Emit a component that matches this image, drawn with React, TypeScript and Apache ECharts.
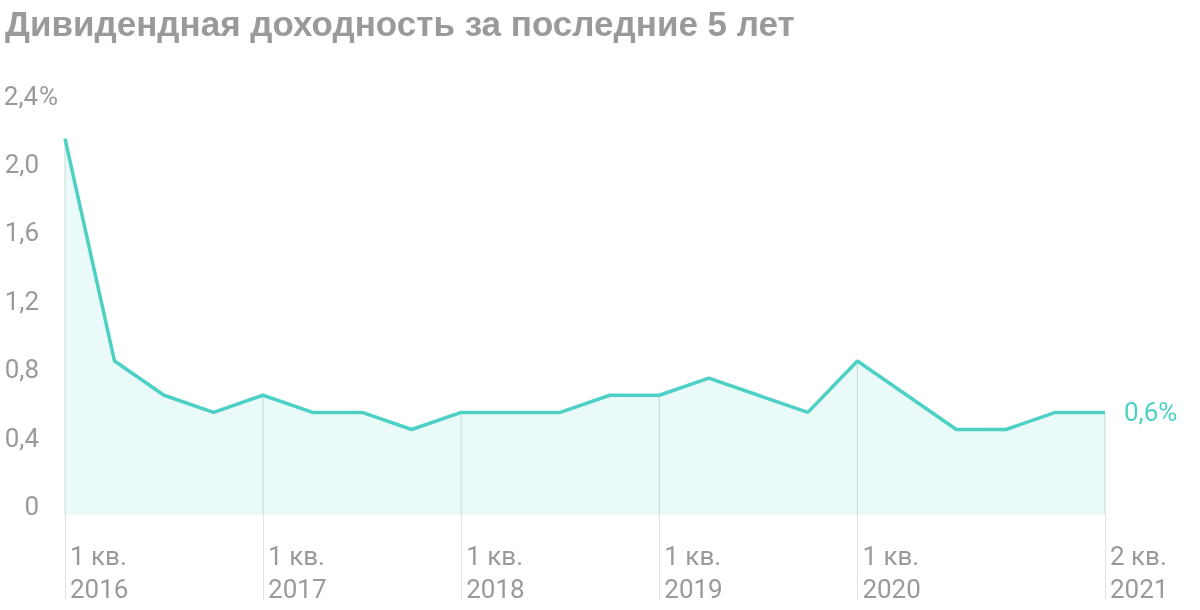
import React, { useEffect, useRef } from "react";
import * as echarts from "echarts";

const titleText = "Дивидендная доходность за последние 5 лет";
const categories = [
  "1 кв.\n2016", "2 кв.\n2016", "3 кв.\n2016", "4 кв.\n2016",
  "1 кв.\n2017", "2 кв.\n2017", "3 кв.\n2017", "4 кв.\n2017",
  "1 кв.\n2018", "2 кв.\n2018", "3 кв.\n2018", "4 кв.\n2018",
  "1 кв.\n2019", "2 кв.\n2019", "3 кв.\n2019", "4 кв.\n2019",
  "1 кв.\n2020", "2 кв.\n2020", "3 кв.\n2020", "4 кв.\n2020",
  "1 кв.\n2021", "2 кв.\n2021",
];
const values = [2.2, 0.9, 0.7, 0.6, 0.7, 0.6, 0.6, 0.5, 0.6, 0.6, 0.6, 0.7, 0.7, 0.8, 0.7, 0.6, 0.9, 0.7, 0.5, 0.5, 0.6, 0.6];
const labelIndices = [0, 4, 8, 12, 16, 21];
const yTickLabels = ["0", "0,4", "0,8", "1,2", "1,6", "2,0", "2,4"];
const endLabelText = "0,6%";

const TEAL = "#4dd1c4";
const GRAY = "#9a9a9a";
const FONT = "Roboto, 'Liberation Sans', sans-serif";

export default function App() {
  const ref = useRef<HTMLDivElement>(null);
  useEffect(() => {
    if (!ref.current) return;
    const chart = echarts.init(ref.current, undefined, { renderer: "svg" });
    const isLabel = (i: number) => labelIndices.indexOf(i) >= 0;
    chart.setOption({
      animation: false,
      title: {
        text: titleText,
        left: 0,
        top: 1,
        textStyle: { fontSize: 35, fontWeight: "bold", color: GRAY, fontFamily: "'Liberation Sans', Arial, sans-serif" },
      },
      grid: { left: 65, right: 95, top: 104.5, bottom: 95, containLabel: false },
      xAxis: {
        type: "category",
        data: categories,
        boundaryGap: false,
        axisLine: { show: false },
        axisTick: {
          show: true,
          interval: (i: number) => isLabel(i),
          length: 85,
          lineStyle: { color: "#e2e2e2", width: 1 },
        },
        axisLabel: {
          interval: (i: number) => isLabel(i),
          align: "left",
          margin: 24,
          padding: [0, 0, 0, 5],
          fontSize: 26,
          lineHeight: 33,
          color: GRAY,
          fontFamily: FONT,
          verticalAlign: "top",
        },
        splitLine: { show: false },
      },
      yAxis: {
        type: "value",
        min: 0,
        max: 2.4,
        interval: 0.4,
        axisLine: { show: false },
        axisTick: { show: false },
        splitLine: { show: false },
        axisLabel: {
          align: "left",
          margin: 62,
          verticalAlign: "bottom",
          formatter: (v: number) => {
            const idx = Math.round(v / 0.4);
            const t = yTickLabels[idx];
            return idx === yTickLabels.length - 1 ? `{v|${t}}{p|%}` : `{v|${t}}`;
          },
          rich: {
            v: { width: 36, align: "right", fontSize: 26, color: GRAY, fontFamily: FONT, lineHeight: 18 },
            p: { fontSize: 26, color: GRAY, fontFamily: FONT, lineHeight: 18 },
          },
        },
      },
      series: [
        {
          type: "custom",
          z: 1,
          silent: true,
          data: labelIndices.map((i) => [i, values[i]]),
          renderItem: (params: any, api: any) => {
            const p = api.coord([api.value(0), api.value(1)]);
            const b = api.coord([api.value(0), 0]);
            return {
              type: "line",
              shape: { x1: p[0], y1: p[1], x2: b[0], y2: b[1] },
              style: { stroke: "#d3dada", lineWidth: 1 },
            };
          },
        },
        {
          type: "line",
          z: 2,
          data: values,
          symbol: "none",
          lineStyle: { color: TEAL, width: 3.5 },
          areaStyle: { color: "rgba(77,209,196,0.17)" },
          endLabel: {
            show: true,
            formatter: endLabelText,
            distance: 19,
            color: TEAL,
            fontSize: 26,
            fontFamily: FONT,
          },
        },
      ],
    });
    return () => chart.dispose();
  }, []);
  return <div ref={ref} style={{ position: "fixed", left: 0, top: 0, width: 1200, height: 610 }} />;
}
